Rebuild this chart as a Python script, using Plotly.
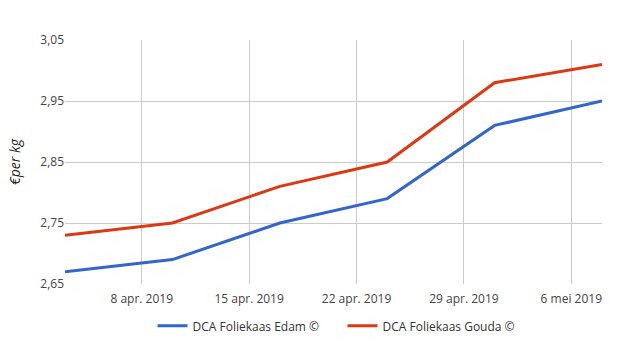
import plotly.graph_objects as go

# Weekly cheese prices (euro per kg)
dates = ["2019-04-03", "2019-04-10", "2019-04-17", "2019-04-24", "2019-05-01", "2019-05-08"]
edam = [2.67, 2.69, 2.75, 2.79, 2.91, 2.95]
gouda = [2.73, 2.75, 2.81, 2.85, 2.98, 3.01]

tick_dates = ["2019-04-08", "2019-04-15", "2019-04-22", "2019-04-29", "2019-05-06"]
tick_labels = ["8 apr. 2019", "15 apr. 2019", "22 apr. 2019", "29 apr. 2019", "6 mei 2019"]
y_ticks = [2.65, 2.75, 2.85, 2.95, 3.05]

font_family = "Open Sans, Noto Sans, sans-serif"

fig = go.Figure()
fig.add_trace(go.Scatter(x=dates, y=edam, mode="lines", name="DCA Foliekaas Edam ©",
                         line=dict(color="#3366CC", width=3)))
fig.add_trace(go.Scatter(x=dates, y=gouda, mode="lines", name="DCA Foliekaas Gouda ©",
                         line=dict(color="#DC3912", width=3)))

fig.update_layout(
    width=625, height=350,
    margin=dict(l=65, r=23, t=40, b=66, autoexpand=False),
    paper_bgcolor="white", plot_bgcolor="white",
    separators=",.",
    font=dict(family=font_family, size=12, color="#444"),
    showlegend=True,
    legend=dict(orientation="h", x=0.548, xanchor="center", xref="container",
                y=0.069, yanchor="middle", yref="container",
                font=dict(size=12, color="#333"), itemwidth=30, entrywidth=145),
    xaxis=dict(range=[dates[0], dates[-1]], tickvals=tick_dates, ticktext=tick_labels,
               showgrid=True, gridcolor="#cccccc", gridwidth=1, zeroline=False,
               showline=False, ticks="outside", ticklen=4, tickcolor="rgba(0,0,0,0)",
               tickfont=dict(size=12, color="#444")),
    yaxis=dict(range=[2.65, 3.05], tickvals=y_ticks, tickformat=".2f",
               showgrid=True, gridcolor="#cccccc", gridwidth=1, zeroline=False,
               showline=False, ticks="", ticklen=0, tickfont=dict(size=12, color="#444"),
               title=dict(text="<i>€per kg</i>", font=dict(size=14, color="#222"), standoff=16)),
)

fig.write_html("out.html")
